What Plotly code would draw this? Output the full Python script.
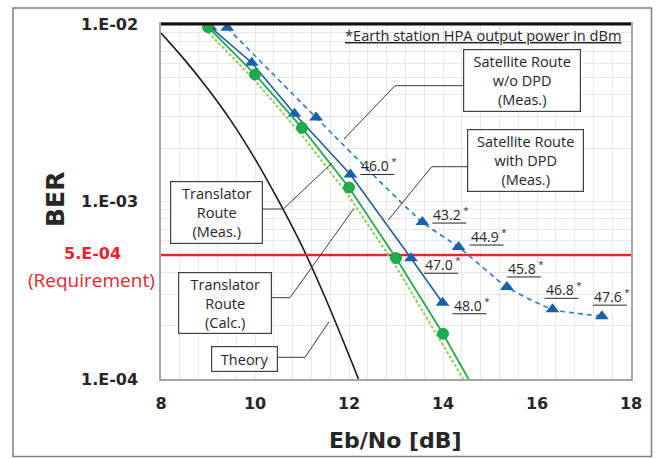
import numpy as np
import plotly.graph_objects as go

# ---------------- data ----------------
theory_ebno = [8.0, 8.5, 9.0, 9.5, 10.0, 10.5, 11.0, 11.5, 12.0, 12.2]
theory_ber = [8.9e-3, 6.3e-3, 4.3e-3, 2.82e-3, 1.74e-3, 1.01e-3, 5.6e-4, 2.85e-4, 1.36e-4, 1.0e-4]

trans_calc_ebno = [9.0, 10.0, 11.0, 12.0, 13.0, 14.0, 14.5]
trans_calc_ber = [9.0e-3, 4.8e-3, 2.36e-3, 1.07e-3, 4.3e-4, 1.57e-4, 9.3e-5]

trans_meas_ebno = [9.0, 10.0, 11.0, 12.0, 13.0, 14.0]
trans_meas_ber = [9.6e-3, 5.2e-3, 2.6e-3, 1.2e-3, 4.8e-4, 1.8e-4]
trans_meas_tail_ebno = [14.0, 14.6]
trans_meas_tail_ber = [1.8e-4, 9.4e-5]

sat_dpd_ebno = [9.05, 9.93, 10.84, 12.03, 13.32, 13.99]
sat_dpd_ber = [9.6e-3, 6.05e-3, 3.12e-3, 1.42e-3, 4.79e-4, 2.69e-4]
sat_dpd_power = [None, None, None, "46.0", "47.0", "48.0"]
sat_dpd_shift = [None, None, None, (9, 7), (12, -8), (9, -4)]

sat_nodpd_ebno = [9.41, 11.30, 13.56, 14.33, 15.36, 16.33, 17.38]
sat_nodpd_ber = [9.53e-3, 2.97e-3, 7.66e-4, 5.54e-4, 3.30e-4, 2.47e-4, 2.26e-4]
sat_nodpd_power = [None, None, "43.2", "44.9", "45.8", "46.8", "47.6"]
sat_nodpd_shift = [None, None, (9, 6), (10, 9), (-1, 17), (-9, 18), (-10, 18)]

requirement_ber = 5e-4
x_range = [8, 18]
y_log_range = [-4, -2]
x_ticks = [8, 10, 12, 14, 16, 18]
y_ticks = [1e-4, 1e-3, 1e-2]
y_ticktext = ["1.E-04", "1.E-03", "1.E-02"]

# ---------------- styling ----------------
W, H = 661, 458
L, R, T, B = 161, 631, 24, 379
GREEN = "#1CAD4E"
LIGHT_GREEN = "#8FD15A"
BLUE_MARK = "#1660AC"
BLUE_SOLID = "#1F5E9E"
BLUE_DASH = "#2A7CCB"
RED = "#E8252B"
GRID = "#E8E8E8"
TXT = "#262626"
BOLD_FONT = "DejaVu Sans"
FONT = "Open Sans"


def px(x):
    return (x - L) / (R - L)


def py(y):
    return (B - y) / (B - T)


def data_to_paper(xv, yv):
    """Paper position of a data point on the fixed linear-x / log-y axes."""
    fx = (xv - x_range[0]) / (x_range[1] - x_range[0])
    fy = (np.log10(yv) - y_log_range[0]) / (y_log_range[1] - y_log_range[0])
    return fx, fy


fig = go.Figure()

fig.add_trace(go.Scatter(x=theory_ebno, y=theory_ber, mode="lines",
                         line=dict(color="#1A1A1A", width=1.6, shape="spline")))
fig.add_trace(go.Scatter(x=x_range, y=[requirement_ber] * 2, mode="lines",
                         line=dict(color=RED, width=2.5)))
fig.add_trace(go.Scatter(x=trans_calc_ebno, y=trans_calc_ber, mode="lines",
                         line=dict(color=LIGHT_GREEN, width=2, dash="3px,2px")))
fig.add_trace(go.Scatter(x=sat_nodpd_ebno, y=sat_nodpd_ber, mode="lines+markers",
                         line=dict(color=BLUE_DASH, width=1.6, dash="5px,4px", shape="spline", smoothing=0.6),
                         marker=dict(symbol="triangle-up", size=12, color=BLUE_MARK)))
fig.add_trace(go.Scatter(x=sat_dpd_ebno, y=sat_dpd_ber, mode="lines+markers",
                         line=dict(color=BLUE_SOLID, width=1.6),
                         marker=dict(symbol="triangle-up", size=12, color=BLUE_MARK)))
fig.add_trace(go.Scatter(x=trans_meas_tail_ebno, y=trans_meas_tail_ber, mode="lines",
                         line=dict(color=GREEN, width=1.8)))
fig.add_trace(go.Scatter(x=trans_meas_ebno, y=trans_meas_ber, mode="lines+markers",
                         line=dict(color=GREEN, width=1.8),
                         marker=dict(symbol="circle", size=11, color=GREEN,
                                     line=dict(color="#179443", width=0.8))))

annotations = []
shapes = []

# HPA output power labels next to the satellite-route markers, each underlined
pw, ph = R - L, B - T
for xs, ys, labels, shifts in [(sat_dpd_ebno, sat_dpd_ber, sat_dpd_power, sat_dpd_shift),
                               (sat_nodpd_ebno, sat_nodpd_ber, sat_nodpd_power, sat_nodpd_shift)]:
    for xv, yv, lab, sh in zip(xs, ys, labels, shifts):
        if lab is None:
            continue
        annotations.append(dict(
            x=xv, y=np.log10(yv), xref="x", yref="y", showarrow=False,
            text=f"{lab}<sup> *</sup>",
            xanchor="left", yanchor="middle",
            xshift=sh[0], yshift=sh[1] + 2,
            font=dict(family=FONT, size=14, color=TXT)))
        fx, fy = data_to_paper(xv, yv)
        uy = fy + (sh[1] - 7) / ph
        shapes.append(dict(
            type="line", xref="paper", yref="paper",
            x0=fx + (sh[0] + 1) / pw, x1=fx + (sh[0] + 35) / pw, y0=uy, y1=uy,
            line=dict(color=TXT, width=1)))

annotations.append(dict(
    x=px(343), y=py(35), xref="paper", yref="paper", showarrow=False,
    text="<u>*Earth station HPA output power in dBm</u>", xanchor="left", yanchor="middle",
    font=dict(family=FONT, size=14.6, color=TXT)))

# call-out boxes: (text, left, top, right, bottom) in pixels
boxes = [
    ("Satellite Route<br>w/o DPD<br>(Meas.)", 463, 49, 581, 112),
    ("Satellite Route<br>with DPD<br>(Meas.)", 467, 129, 584, 192),
    ("Translator<br>Route<br>(Meas.)", 170, 181, 263, 244),
    ("Translator<br>Route<br>(Calc.)", 178, 272, 272, 334),
    ("Theory", 211, 346, 278, 372),
]
for text, x0, y0, x1, y1 in boxes:
    annotations.append(dict(
        x=px((x0 + x1) / 2), y=py((y0 + y1) / 2), xref="paper", yref="paper",
        showarrow=False, text=text, xanchor="center", yanchor="middle",
        width=x1 - x0 - 2, height=y1 - y0 - 2, borderpad=0, borderwidth=1.2,
        bordercolor="#404040", bgcolor="white", align="center",
        font=dict(family=FONT, size=14.5, color=TXT)))

# axis and requirement texts
side_texts = [
    (55, 200, "<b>BER</b>", BOLD_FONT, 25, TXT, -90),
    (395, 440, "<b>Eb/No [dB]</b>", BOLD_FONT, 22, TXT, 0),
    (92, 253, "<b>5.E-04</b>", BOLD_FONT, 16, RED, 0),
    (91, 280, "(Requirement)", FONT, 19, RED, 0),
]
for x, y, text, fam, size, col, ang in side_texts:
    annotations.append(dict(
        x=px(x), y=py(y), xref="paper", yref="paper", showarrow=False, text=text,
        xanchor="center", yanchor="middle", textangle=ang,
        font=dict(family=fam, size=size, color=col)))

# leader lines from the call-out boxes to the curves
leaders = [
    [(463, 85.7), (395, 85.7), (344, 139)],
    [(467, 166.7), (431.7, 166.7), (388.3, 220)],
    [(263, 209), (283.3, 209), (332, 163)],
    [(272, 297.7), (290, 297.7), (354, 208.3)],
    [(278, 357.3), (305, 357.3), (329, 321.7)],
]
for pts in leaders:
    path = "M " + " L ".join(f"{px(a):.5f},{py(b):.5f}" for a, b in pts)
    shapes.append(dict(type="path", path=path, xref="paper", yref="paper",
                       line=dict(color="#3A3A3A", width=1)))

# heavy top edge of the plot area
shapes.append(dict(type="line", xref="paper", yref="paper", x0=0, x1=1, y0=1, y1=1,
                   line=dict(color="#111111", width=3)))
# outer frame
shapes.append(dict(type="rect", xref="paper", yref="paper",
                   x0=px(13), x1=px(651.5), y0=py(456.5), y1=py(8),
                   line=dict(color="#7F7F7F", width=1.5), layer="below"))

fig.update_layout(
    width=W, height=H,
    margin=dict(l=L, r=W - R, t=T, b=H - B),
    paper_bgcolor="white", plot_bgcolor="white",
    showlegend=False,
    annotations=annotations, shapes=shapes,
    xaxis=dict(range=x_range, tickvals=x_ticks, ticktext=[f"<b>{v}</b>" for v in x_ticks],
               showgrid=True, gridcolor=GRID, gridwidth=1, zeroline=False,
               minor=dict(dtick=0.4, tick0=8, showgrid=True, gridcolor=GRID, gridwidth=1),
               showline=True, linecolor="#A6A6A6", linewidth=1.5, mirror=True,
               ticks="", ticklabelstandoff=9,
               tickfont=dict(family=BOLD_FONT, size=16, color=TXT)),
    yaxis=dict(type="log", range=y_log_range, tickvals=y_ticks,
               ticktext=[f"<b>{t}</b>" for t in y_ticktext],
               showgrid=True, gridcolor=GRID, gridwidth=1, zeroline=False,
               minor=dict(dtick="D1", showgrid=True, gridcolor=GRID, gridwidth=1),
               showline=True, linecolor="#A6A6A6", linewidth=1.5, mirror=True,
               ticks="", ticklabelstandoff=18,
               tickfont=dict(family=BOLD_FONT, size=16, color=TXT)),
)

fig.write_html("out.html")
